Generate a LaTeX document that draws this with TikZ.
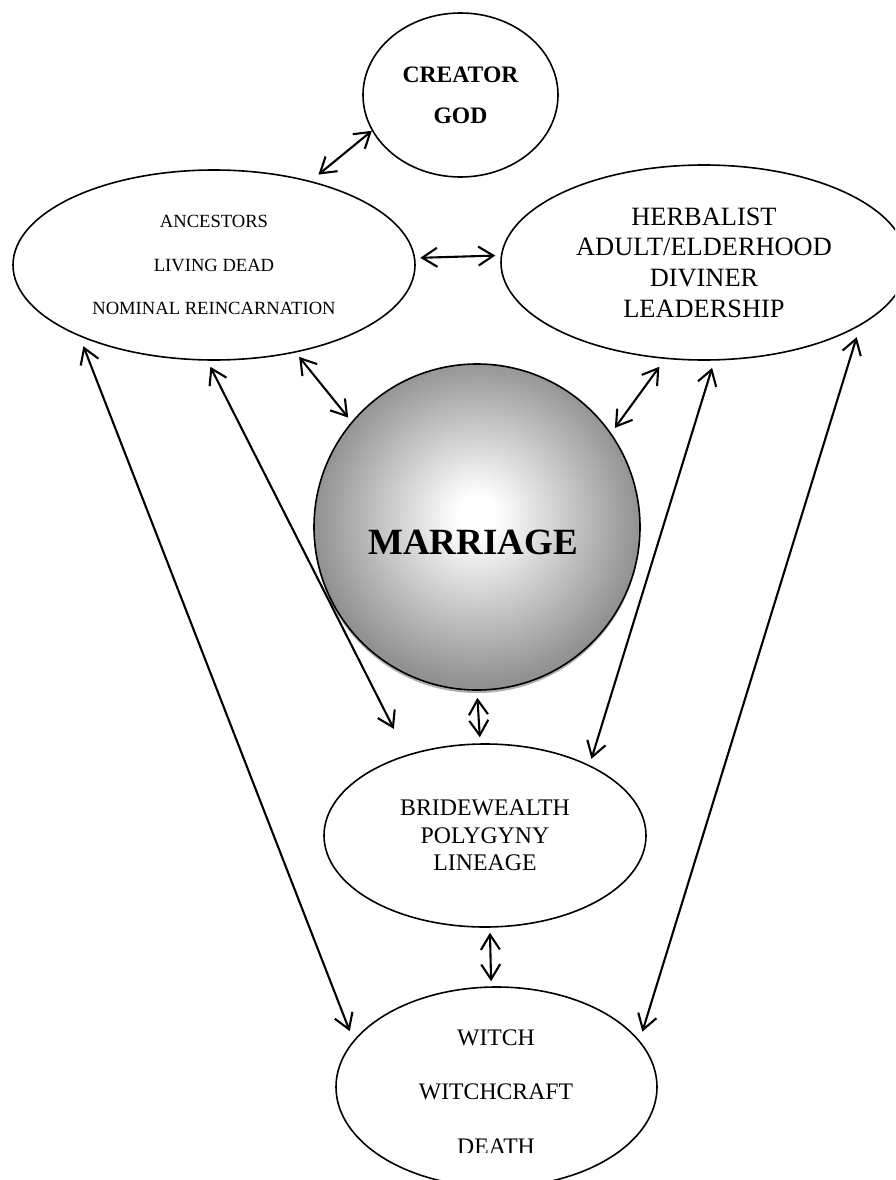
\documentclass[tikz,border=0pt]{standalone}
\usepackage{fontspec}
\setmainfont{Liberation Serif}
\usetikzlibrary{shapes.geometric,arrows.meta,shadows}

% grey ball for the centre circle
\pgfdeclareradialshading{marriageball}{\pgfpoint{0bp}{2bp}}{%
  color(0bp)=(white); color(3bp)=(white); color(25bp)=(black!43); color(50bp)=(black!43)}

\begin{document}
\begin{tikzpicture}[x=1pt,y=-1pt,
  bubble/.style={draw, ellipse, line width=1.6pt, inner sep=0pt, align=center},
  link/.style={{Straight Barb[length=15pt,width=19pt]}-{Straight Barb[length=15pt,width=19pt]}, line width=2.1pt}]

% paper size:
\pgfmathsetmacro\pwidth{895};
\pgfmathsetmacro\pheight{1180};

\useasboundingbox (0,0) rectangle (\pwidth,\pheight);
\clip (0,0) rectangle (\pwidth,\pheight);

% outer ring
\node[bubble, minimum width=195pt, minimum height=164pt, font=\fontsize{23.6}{41}\selectfont\bfseries] (god) at (460.5,95) {CREATOR\\GOD};
\node[bubble, minimum width=402pt, minimum height=190pt, font=\fontsize{18.6}{43.5}\selectfont] (anc) at (214,265) {ANCESTORS\\LIVING DEAD\\NOMINAL REINCARNATION};
\node[bubble, minimum width=406pt, minimum height=195pt, font=\fontsize{26.4}{30.7}\selectfont] (herb) at (704,262.5) {HERBALIST\\ADULT/ELDERHOOD\\DIVINER\\LEADERSHIP};
\node[bubble, minimum width=322pt, minimum height=183pt, font=\fontsize{23.8}{27.5}\selectfont] (bride) at (485,835.5) {BRIDEWEALTH\\POLYGYNY\\LINEAGE};
\node[bubble, minimum width=321pt, minimum height=200pt] (witch) at (496.5,1087) {};
\begin{scope}
  \clip (330,980) rectangle (665,1152.5);
  \node[align=center, font=\fontsize{23.7}{54.5}\selectfont] (witchtxt) at (496,1092) {WITCH\\WITCHCRAFT\\DEATH};
\end{scope}

% centre
\node[draw, circle, line width=1.6pt, minimum size=326pt, inner sep=0pt, shade, shading=marriageball,
  drop shadow={shadow xshift=0pt, shadow yshift=-3pt, fill=black!45, opacity=0.7}] (mar) at (477,527) {};
\node[font=\fontsize{37}{44}\selectfont\bfseries] (martxt) at (473,542) {MARRIAGE};

% links: from / to / gap at start / gap at end
\foreach \from/\to/\sa/\sb in {anc.41.4/god.202.3/10pt/0pt,
                               anc.2.6/herb.178.2/5pt/5.4pt,
                               anc.313.6/mar.140.5/5.5pt/5.3pt,
                               herb.248.2/mar.35.2/9.6pt/6.3pt,
                               anc.266.4/bride.134.8/6.8pt/28.9pt,
                               herb.276/bride.34.3/7.5pt/6.5pt,
                               mar.270.7/bride.93.8/7pt/6pt,
                               bride.273.8/witch.93.2/5pt/5pt,
                               anc.208.9/witch.162.3/10.5pt/10.1pt,
                               herb.338.4/witch.18.9/12pt/9.3pt}{
  \draw[link, shorten <=\sa, shorten >=\sb] (\from) -- (\to);
}

\end{tikzpicture}
\end{document}
